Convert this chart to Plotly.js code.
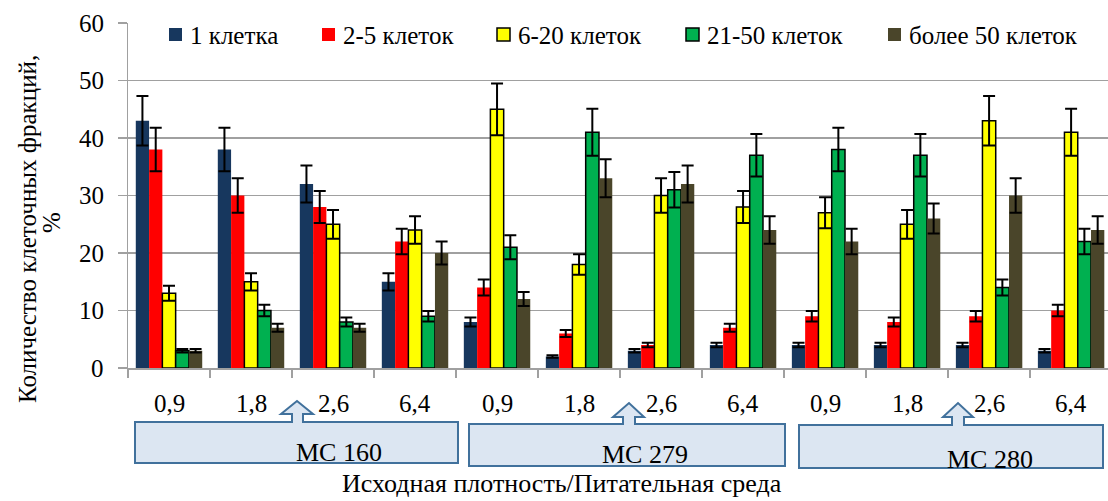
<!DOCTYPE html>
<html>
<head>
<meta charset="utf-8">
<script src="https://cdn.plot.ly/plotly-3.0.1.min.js"></script>
<style>
html,body{margin:0;padding:0;background:#fff}
#chart{width:1108px;height:501px}
</style>
</head>
<body>
<div id="chart"></div>
<script>
// ---- data ----
const densities = ['0,9','1,8','2,6','6,4','0,9','1,8','2,6','6,4','0,9','1,8','2,6','6,4'];
const media = ['МС 160','МС 279','МС 280'];
const seriesNames = ['1 клетка','2-5 клеток','6-20 клеток','21-50 клеток','более 50 клеток'];
const yTicks = [0, 10, 20, 30, 40, 50, 60];
const cells1   = [43, 38, 32, 15,  8,  2,  3,  4,  4,  4,  4,  3];
const cells2_5 = [38, 30, 28, 22, 14,  6,  4,  7,  9,  8,  9, 10];
const cells6_20 = [13, 15, 25, 24, 45, 18, 30, 28, 27, 25, 43, 41];
const cells21_50 = [3, 10,  8,  9, 21, 41, 31, 37, 38, 37, 14, 22];
const cells50  = [ 3,  7,  7, 20, 12, 33, 32, 24, 22, 26, 30, 24];
const err1   = [4.3, 3.8, 3.2, 1.5, 0.8, 0.2, 0.3, 0.4, 0.4, 0.4, 0.4, 0.3];
const err2_5 = [3.8, 3.0, 2.8, 2.2, 1.4, 0.6, 0.4, 0.7, 0.9, 0.8, 0.9, 1.0];
const err6_20 = [1.3, 1.5, 2.5, 2.4, 4.5, 1.8, 3.0, 2.8, 2.7, 2.5, 4.3, 4.1];
const err21_50 = [0.3, 1.0, 0.8, 0.9, 2.1, 4.1, 3.1, 3.7, 3.8, 3.7, 1.4, 2.2];
const err50  = [0.3, 0.7, 0.7, 2.0, 1.2, 3.3, 3.2, 2.4, 2.2, 2.6, 3.0, 2.4];
const yTitleLines = ['Количество клеточных фракций,', '%'];
const xTitle = 'Исходная плотность/Питательная среда';

const values = [cells1, cells2_5, cells6_20, cells21_50, cells50];
const errors = [err1, err2_5, err6_20, err21_50, err50];
const colors = ['#17375E', '#FF0000', '#FFFF00', '#00B050', '#4A452A'];
const outlined = [false, false, true, true, false];

const FONT = 'Liberation Serif';
const FS = 25;
const xIdx = densities.map((_, i) => i);

const traces = values.map((v, k) => ({
  type: 'bar',
  name: seriesNames[k],
  x: xIdx,
  y: v,
  marker: {color: colors[k], line: {color: '#000', width: outlined[k] ? 1.5 : 0}},
  error_y: {type: 'data', array: errors[k], visible: true, color: '#000', thickness: 2, width: 6},
  hoverinfo: 'y+name'
}));

// ---- geometry helpers (pixel -> paper) ----
const L = 128, R = 1108, T = 23, B = 368;
const px = x => (x - L) / (R - L);
const py = y => (B - y) / (B - T);

function callout(b) {
  const pts = [
    [b.bx0, b.by0], [b.sx0, b.by0], [b.sx0, b.hb], [b.hx0, b.hb], [b.tx, b.ty],
    [b.hx1, b.hb], [b.sx1, b.hb], [b.sx1, b.by0], [b.bx1, b.by0], [b.bx1, b.by1], [b.bx0, b.by1]
  ];
  const d = 'M' + pts.map(p => px(p[0]).toFixed(5) + ',' + py(p[1]).toFixed(5)).join(' L') + ' Z';
  return {type: 'path', xref: 'paper', yref: 'paper', path: d,
          fillcolor: '#DCE6F2', line: {color: '#41719C', width: 2}, layer: 'above'};
}
const boxes = [
  {bx0: 135, bx1: 458, by0: 422, by1: 463, tx: 297, ty: 401, hx0: 281, hx1: 313, hb: 414, sx0: 292, sx1: 303, lx: 339, ly: 452},
  {bx0: 469, bx1: 785, by0: 424, by1: 466, tx: 629, ty: 403, hx0: 613, hx1: 644, hb: 417, sx0: 623, sx1: 635, lx: 645, ly: 454},
  {bx0: 799, bx1: 1103, by0: 425, by1: 468, tx: 958, ty: 403, hx0: 943, hx1: 973, hb: 417, sx0: 952, sx1: 964, lx: 990, ly: 459}
];

const fnt = (s) => ({family: FONT, size: s || FS, color: '#000'});
const txt = (x, y, text, extra) => Object.assign({
  xref: 'paper', yref: 'paper', x: px(x), y: py(y), text: text,
  showarrow: false, xanchor: 'center', yanchor: 'middle', font: fnt()
}, extra || {});

const annotations = boxes.map((b, i) => txt(b.lx, b.ly, media[i], {font: fnt(26)}));
annotations.push(txt(27, 229, yTitleLines[0], {textangle: -90}));
annotations.push(txt(51, 223, yTitleLines[1], {textangle: -90}));
annotations.push(txt(562, 500, xTitle, {yanchor: 'bottom', font: fnt(26)}));

// tick labels placed through the axes' own scales
densities.forEach((d, i) => annotations.push({
  xref: 'x', yref: 'paper', x: i, y: py(403), text: d, showarrow: false,
  xanchor: 'center', yanchor: 'middle', font: fnt()
}));
yTicks.forEach(v => annotations.push({
  xref: 'paper', yref: 'y', x: px(106), y: v, text: String(v), showarrow: false,
  xanchor: 'right', yanchor: 'middle', font: fnt()
}));

// legend (swatch + label per series)
const legendSwatchX = [169, 322, 497, 686, 888];
const shapes = boxes.map(callout);
seriesNames.forEach((n, k) => {
  const x0 = legendSwatchX[k];
  shapes.push({type: 'rect', xref: 'paper', yref: 'paper',
    x0: px(x0), x1: px(x0 + 13), y0: py(41), y1: py(28),
    fillcolor: colors[k], line: {color: '#000', width: outlined[k] ? 1.5 : 0}});
  annotations.push(txt(x0 + 19, 35, n, {xanchor: 'left'}));
});

const boundaries = [];
for (let i = 0; i <= densities.length; i++) boundaries.push(i - 0.5);

const layout = {
  width: 1108, height: 501,
  margin: {l: L, r: 1108 - R, t: T, b: 501 - B},
  paper_bgcolor: '#fff', plot_bgcolor: '#fff',
  font: fnt(),
  barmode: 'group', bargap: 0.19, bargroupgap: 0,
  showlegend: false,
  xaxis: {
    range: [-0.5, 11.45], tickmode: 'array', tickvals: xIdx, showticklabels: false,
    ticks: '', showline: true, linecolor: '#A0A0A0', linewidth: 1.5, showgrid: false, zeroline: false,
    minor: {tickmode: 'array', tickvals: boundaries, ticks: 'outside', ticklen: 8, tickcolor: '#A0A0A0', tickwidth: 1.5, showgrid: false}
  },
  yaxis: {
    range: [0, 60], tickmode: 'array', tickvals: yTicks, showticklabels: false,
    showgrid: true, gridcolor: '#A0A0A0', gridwidth: 1.5,
    showline: true, linecolor: '#A0A0A0', linewidth: 1.5, zeroline: false,
    ticks: 'outside', ticklen: 9, tickcolor: '#A0A0A0', tickwidth: 1.5
  },
  shapes: shapes,
  annotations: annotations
};

Plotly.newPlot('chart', traces, layout, {displayModeBar: false, staticPlot: true});
</script>
</body>
</html>
